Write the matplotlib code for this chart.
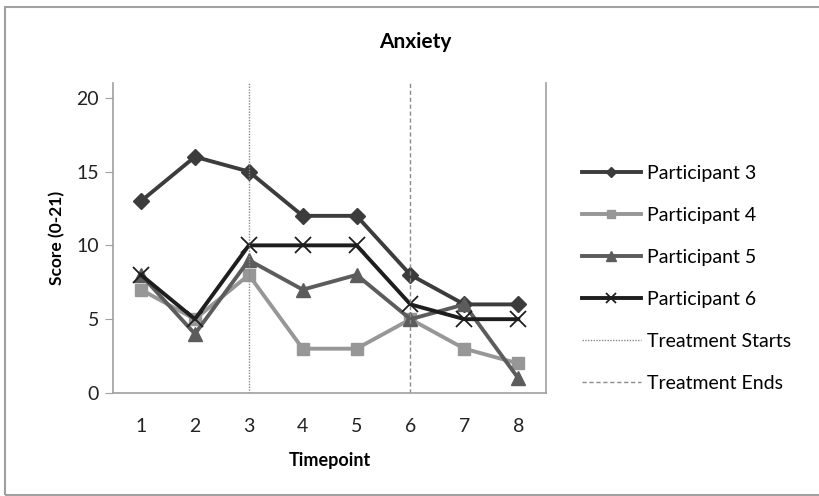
import matplotlib
matplotlib.use('Agg')
import matplotlib.pyplot as plt
from matplotlib.patches import Rectangle

plt.rcParams['font.family'] = ['Lato', 'DejaVu Sans']

timepoints = [1, 2, 3, 4, 5, 6, 7, 8]
p3 = [13, 16, 15, 12, 12, 8, 6, 6]
p4 = [7, 5, 8, 3, 3, 5, 3, 2]
p5 = [8, 4, 9, 7, 8, 5, 6, 1]
p6 = [8, 5, 10, 10, 10, 6, 5, 5]
labels = ['Participant 3', 'Participant 4', 'Participant 5', 'Participant 6']
treat_start = 3
treat_end = 6

fig = plt.figure(figsize=(8.19, 4.96), dpi=100)
# outer chart frame
fig.patches.append(Rectangle((0.006, 0.002), 1.2, 0.984, transform=fig.transFigure,
                             fill=False, edgecolor='#a0a0a0', linewidth=1.5))

ax = fig.add_axes([0.138, 0.2077, 0.529, 0.625])

ax.plot(timepoints, p3, color='#3c3c3c', lw=2.8, marker='D', ms=8, label=labels[0])
ax.plot(timepoints, p4, color='#979797', lw=2.8, marker='s', ms=9, label=labels[1])
ax.plot(timepoints, p5, color='#5c5c5c', lw=2.8, marker='^', ms=10, label=labels[2])
ax.plot(timepoints, p6, color='#1e1e1e', lw=2.8, marker='x', ms=11, mew=1.3, label=labels[3])
ax.axvline(treat_start, color='#8a8a8a', lw=1.0, ls=(0, (1, 1)), label='Treatment Starts')
ax.axvline(treat_end, color='#8a8a8a', lw=1.0, ls=(0, (3, 2)), label='Treatment Ends')

ax.set_xlim(0.48, 8.52)
ax.set_ylim(0, 21)
ax.set_yticks([0, 5, 10, 15, 20])
ax.set_xticks(timepoints)

for s in ['left', 'bottom', 'right']:
    ax.spines[s].set_color('#a0a0a0')
    ax.spines[s].set_linewidth(1.2)
ax.spines['top'].set_visible(False)
ax.tick_params(axis='y', length=6, color='#a0a0a0', labelsize=14, pad=4, labelcolor='#222222')
ax.tick_params(axis='x', length=0, labelsize=14, pad=18, labelcolor='#222222')

ax.set_xlabel('Timepoint', fontsize=13, fontweight='bold', labelpad=12)
ax.set_ylabel('Score (0-21)', fontsize=12.5, fontweight='bold', labelpad=8)
fig.text(0.507, 0.915, 'Anxiety', fontsize=15, fontweight='bold', ha='center', va='center')

ax.legend(loc='upper left', bbox_to_anchor=(1.065, 0.76), frameon=False, fontsize=14,
          handlelength=3.0, labelspacing=1.28, handletextpad=0.35, borderaxespad=0,
          markerscale=0.7)

fig.savefig('out.png', dpi=100)
